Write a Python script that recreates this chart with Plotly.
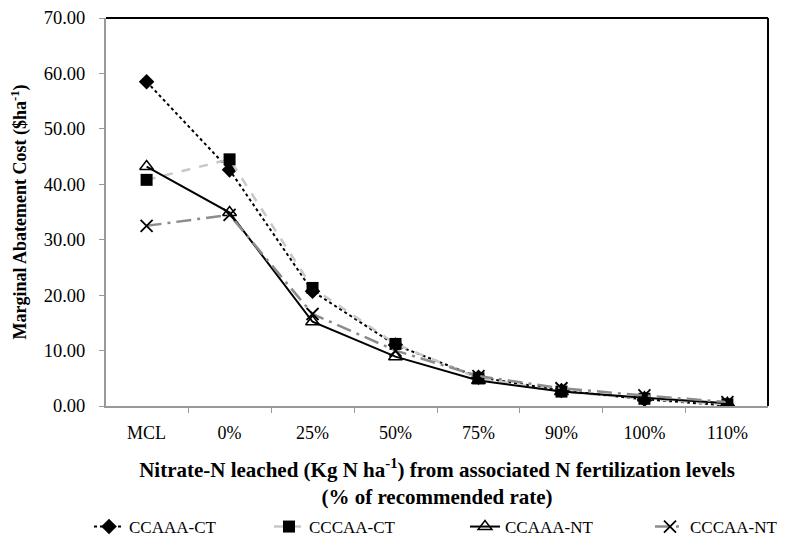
import plotly.graph_objects as go

categories = ["MCL", "0%", "25%", "50%", "75%", "90%", "100%", "110%"]
ccaaa_ct = [58.5, 42.6, 20.7, 11.0, 5.2, 2.8, 1.2, 0.1]
cccaa_ct = [40.8, 44.5, 21.3, 11.2, 5.0, 2.6, 1.3, 0.3]
ccaaa_nt = [43.2, 34.9, 15.2, 8.9, 4.6, 2.6, 1.5, 0.5]
cccaa_nt = [32.5, 34.5, 16.6, 10.0, 5.4, 3.2, 1.9, 0.7]

FONT = "Liberation Serif, Times New Roman, serif"
W, H = 797, 551

fig = go.Figure()
fig.add_trace(go.Scatter(
    x=categories, y=ccaaa_ct, name="CCAAA-CT", mode="lines+markers", legend="legend",
    line=dict(color="black", width=2, dash="dot"),
    marker=dict(symbol="diamond", size=12, color="black")))
fig.add_trace(go.Scatter(
    x=categories, y=cccaa_ct, name="CCCAA-CT", mode="lines+markers", legend="legend2",
    line=dict(color="#c8c8c8", width=2.5, dash="dash"),
    marker=dict(symbol="square", size=12, color="black")))
fig.add_trace(go.Scatter(
    x=categories, y=ccaaa_nt, name="CCAAA-NT", mode="lines+markers", legend="legend3",
    line=dict(color="black", width=2),
    marker=dict(symbol="triangle-up-open", size=12, color="black",
                line=dict(width=1.5, color="black"))))
fig.add_trace(go.Scatter(
    x=categories, y=cccaa_nt, name="CCCAA-NT", mode="lines+markers", legend="legend4",
    line=dict(color="#8c8c8c", width=2.5, dash="longdashdot"),
    marker=dict(symbol="x-thin-open", size=12, color="black",
                line=dict(width=1.8, color="black"))))


def leg(px_left):
    return dict(orientation="h", xref="container", yref="container",
                x=px_left / W, xanchor="left", y=(H - 527) / H, yanchor="middle",
                font=dict(family=FONT, size=17, color="black"),
                bgcolor="rgba(0,0,0,0)")


fig.update_layout(
    width=W, height=H,
    margin=dict(l=106, r=29, t=18, b=145),
    paper_bgcolor="white", plot_bgcolor="white",
    font=dict(family=FONT, size=16, color="black"),
    showlegend=True,
    legend=leg(89), legend2=leg(269), legend3=leg(465), legend4=leg(650),
    xaxis=dict(
        type="category", tickson="boundaries", ticks="outside", ticklen=5,
        tickcolor="#999999", showline=True, linecolor="#999999", linewidth=2,
        showgrid=False, ticklabelstandoff=9, automargin=False,
        tickfont=dict(family=FONT, size=18, color="black"),
        title=dict(text="<b>Nitrate-N leached (Kg N ha<sup>-1</sup>) from associated N fertilization levels<br>(% of recommended rate)</b>",
                   font=dict(family=FONT, size=21, color="black"), standoff=30)),
    yaxis=dict(
        range=[0, 70], dtick=10, tickformat=".2f", ticks="outside", ticklen=5,
        tickcolor="#999999", showline=True, linecolor="#999999", linewidth=2,
        showgrid=False, zeroline=False, ticklabelstandoff=10, automargin=False,
        tickfont=dict(family=FONT, size=18.5, color="black"),
        title=dict(text="<b>Marginal Abatement Cost ($ha<sup>-1</sup>)</b>",
                   font=dict(family=FONT, size=18, color="black"), standoff=12)),
    shapes=[
        dict(type="line", xref="paper", yref="paper", x0=0, x1=1, y0=1, y1=1,
             line=dict(color="black", width=2)),
        dict(type="line", xref="paper", yref="paper", x0=1, x1=1, y0=0, y1=1,
             line=dict(color="black", width=2)),
    ],
)

fig.write_html("out.html")
